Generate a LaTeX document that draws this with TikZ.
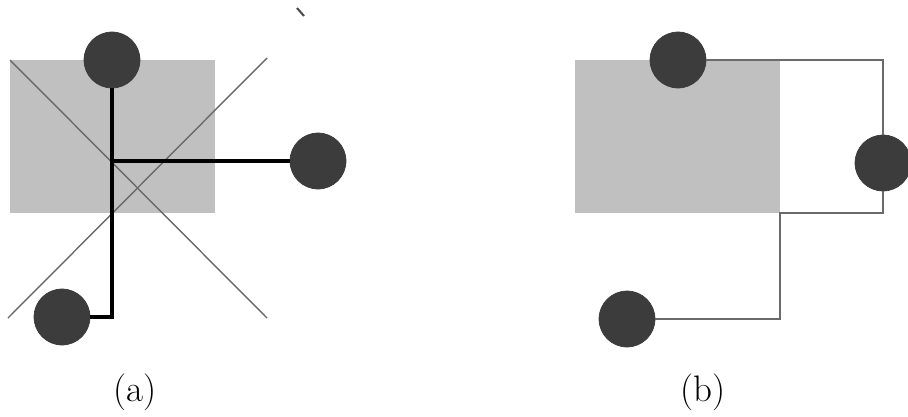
\documentclass[tikz,border=0pt]{standalone}
\usetikzlibrary{positioning}

\definecolor{dotgray}{HTML}{3C3C3C}
\definecolor{boxgray}{HTML}{C0C0C0}
\definecolor{linegray}{HTML}{6A6A6A}

\begin{document}
\begin{tikzpicture}[
      x=0.02cm, y=-0.02cm,
      pin/.style={circle, fill=dotgray, draw=dotgray, minimum size=1.12cm, inner sep=0pt},
      area/.style={fill=boxgray, draw=none},
      wire/.style={line width=2.6pt, black},
      thinwire/.style={line width=1pt, linegray},
      cutline/.style={line width=0.8pt, linegray},
      caption/.style={font=\fontsize{21}{25}\selectfont}
    ]
      \useasboundingbox (0,0) rectangle (908,416);

      % (a)
      \fill[area] (10,60) rectangle (215,213);
      \coordinate (d1a) at (10,60);
      \coordinate (d1b) at (267,318);
      \coordinate (d2a) at (267,58);
      \coordinate (d2b) at (8,318);
      \draw[cutline] (d1a) -- (d1b);
      \draw[cutline] (d2a) -- (d2b);

      \node[pin] (atop) at (112,60) {};
      \node[pin] (aright) at (318,161) {};
      \node[pin] (aleft) at (62,317) {};
      \draw[wire] (atop) |- (aleft);
      \draw[wire] (atop|-aright) -- (aright);

      \node[caption] (capa) at (135,392) {(a)};

      % stray mark
      \draw[line width=1.2pt, black!70] (297,8) -- (304,16);

      % (b)
      \fill[area] (575,60) rectangle (780,213);
      \node[pin] (btop) at (678,60) {};
      \node[pin] (bright) at (883,163) {};
      \node[pin] (bleft) at (627,319) {};
      \coordinate (bturn) at (780,213);
      \draw[thinwire] (btop) -| (bright);
      \draw[thinwire] (bright) |- (bturn) |- (bleft);

      \node[caption] (capb) at (703,392) {(b)};
    \end{tikzpicture}
\end{document}
